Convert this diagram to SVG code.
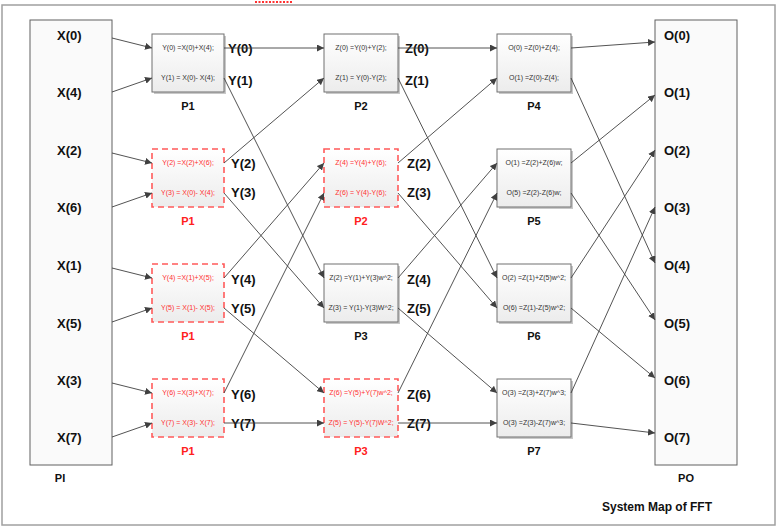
<svg xmlns="http://www.w3.org/2000/svg" width="781" height="530" viewBox="0 0 781 530">
<defs>
<linearGradient id="bg" x1="0" y1="0" x2="0" y2="1"><stop offset="0" stop-color="#ffffff"/><stop offset="1" stop-color="#ececec"/></linearGradient>
<marker id="ah" viewBox="0 0 10 10" refX="10" refY="5" markerWidth="7" markerHeight="7" orient="auto" markerUnits="userSpaceOnUse"><path d="M0,0 L10,5 L0,10 z" fill="#404040"/></marker>
<style>
.frame{fill:none;stroke:#a0a0a0;stroke-width:1.5}
.io{fill:#fafafa;stroke:#606060;stroke-width:1}
.box{fill:url(#bg);stroke:#707070;stroke-width:1}
.rbox{fill:url(#bg);stroke:#ff5a5a;stroke-width:1.6;stroke-dasharray:6,4}
.sh{fill:#c8c8c8}
.bt{font-family:"Liberation Sans",Arial,sans-serif;font-size:7px;fill:#333;text-anchor:middle}
.rt{font-family:"Liberation Sans",Arial,sans-serif;font-size:7px;fill:#ff3030;text-anchor:middle}
.lb{font-family:"Liberation Sans",Arial,sans-serif;font-size:13px;font-weight:bold;fill:#111}
.pl{font-family:"Liberation Sans",Arial,sans-serif;font-size:11px;font-weight:bold;fill:#111;text-anchor:middle}
.rpl{font-family:"Liberation Sans",Arial,sans-serif;font-size:11px;font-weight:bold;fill:#ff2020;text-anchor:middle}
.c{fill:none;stroke:#404040;stroke-width:0.9;marker-end:url(#ah)}
</style>
</defs>
<rect width="781" height="530" fill="#ffffff"/>
<rect class="frame" x="2" y="5" width="773" height="520"/>
<line x1="255" y1="2" x2="292" y2="2" stroke="#ff3030" stroke-width="2" stroke-dasharray="2,1.5"/>

<g id="PI">
<rect class="io" x="30" y="20" width="82" height="445"/>
<text class="lb" x="57" y="40">X(0)</text>
<text class="lb" x="57" y="97">X(4)</text>
<text class="lb" x="57" y="155">X(2)</text>
<text class="lb" x="57" y="212">X(6)</text>
<text class="lb" x="57" y="270">X(1)</text>
<text class="lb" x="57" y="328">X(5)</text>
<text class="lb" x="57" y="385">X(3)</text>
<text class="lb" x="57" y="442">X(7)</text>
<text class="pl" x="60" y="482">PI</text>
</g>

<g id="PO">
<rect class="io" x="655" y="20" width="82" height="445"/>
<text class="lb" x="664" y="40">O(0)</text>
<text class="lb" x="664" y="97">O(1)</text>
<text class="lb" x="664" y="155">O(2)</text>
<text class="lb" x="664" y="212">O(3)</text>
<text class="lb" x="664" y="270">O(4)</text>
<text class="lb" x="664" y="328">O(5)</text>
<text class="lb" x="664" y="385">O(6)</text>
<text class="lb" x="664" y="442">O(7)</text>
<text class="pl" x="686" y="482">PO</text>
</g>

<g id="P1a">
<rect class="sh" x="154" y="36" width="72" height="58"/>
<rect class="box" x="152" y="34" width="72" height="58"/>
<text class="bt" x="188" y="50">Y(0) =X(0)+X(4);</text>
<text class="bt" x="188" y="80">Y(1) = X(0)- X(4);</text>
<text class="pl" x="188" y="110">P1</text>
<text class="lb" x="228" y="53">Y(0)</text>
<text class="lb" x="228" y="85">Y(1)</text>
</g>
<g id="P1b">
<rect class="rbox" x="152" y="149" width="72" height="58"/>
<text class="rt" x="188" y="165">Y(2) =X(2)+X(6);</text>
<text class="rt" x="188" y="195">Y(3) = X(0)- X(4);</text>
<text class="rpl" x="188" y="225">P1</text>
<text class="lb" x="231" y="168">Y(2)</text>
<text class="lb" x="231" y="197">Y(3)</text>
</g>
<g id="P1c">
<rect class="rbox" x="152" y="264" width="72" height="58"/>
<text class="rt" x="188" y="280">Y(4) =X(1)+X(5);</text>
<text class="rt" x="188" y="310">Y(5) = X(1)- X(5);</text>
<text class="rpl" x="188" y="340">P1</text>
<text class="lb" x="231" y="284">Y(4)</text>
<text class="lb" x="231" y="313">Y(5)</text>
</g>
<g id="P1d">
<rect class="rbox" x="152" y="379" width="72" height="58"/>
<text class="rt" x="188" y="395">Y(6) =X(3)+X(7);</text>
<text class="rt" x="188" y="425">Y(7) = X(3)- X(7);</text>
<text class="rpl" x="188" y="455">P1</text>
<text class="lb" x="231" y="399">Y(6)</text>
<text class="lb" x="231" y="428">Y(7)</text>
</g>

<g id="P2a">
<rect class="sh" x="326" y="36" width="74" height="58"/>
<rect class="box" x="324" y="34" width="74" height="58"/>
<text class="bt" x="361" y="50">Z(0) =Y(0)+Y(2);</text>
<text class="bt" x="361" y="80">Z(1) = Y(0)-Y(2);</text>
<text class="pl" x="361" y="110">P2</text>
<text class="lb" x="405" y="53">Z(0)</text>
<text class="lb" x="405" y="85">Z(1)</text>
</g>
<g id="P2b">
<rect class="rbox" x="324" y="149" width="74" height="58"/>
<text class="rt" x="361" y="165">Z(4) =Y(4)+Y(6);</text>
<text class="rt" x="361" y="195">Z(6) = Y(4)-Y(6);</text>
<text class="rpl" x="361" y="225">P2</text>
<text class="lb" x="407" y="168">Z(2)</text>
<text class="lb" x="407" y="197">Z(3)</text>
</g>
<g id="P3a">
<rect class="sh" x="326" y="266" width="74" height="58"/>
<rect class="box" x="324" y="264" width="74" height="58"/>
<text class="bt" x="361" y="280">Z(2) =Y(1)+Y(3)w^2;</text>
<text class="bt" x="361" y="310">Z(3) = Y(1)-Y(3)W^2;</text>
<text class="pl" x="361" y="340">P3</text>
<text class="lb" x="407" y="284">Z(4)</text>
<text class="lb" x="407" y="313">Z(5)</text>
</g>
<g id="P3b">
<rect class="rbox" x="324" y="379" width="74" height="58"/>
<text class="rt" x="361" y="395">Z(6) =Y(5)+Y(7)w^2;</text>
<text class="rt" x="361" y="425">Z(5) = Y(5)-Y(7)W^2;</text>
<text class="rpl" x="361" y="455">P3</text>
<text class="lb" x="407" y="399">Z(6)</text>
<text class="lb" x="407" y="428">Z(7)</text>
</g>

<g id="P4">
<rect class="sh" x="499" y="36" width="74" height="58"/>
<rect class="box" x="497" y="34" width="74" height="58"/>
<text class="bt" x="534" y="50">O(0) =Z(0)+Z(4);</text>
<text class="bt" x="534" y="80">O(1) =Z(0)-Z(4);</text>
<text class="pl" x="534" y="110">P4</text>
</g>
<g id="P5">
<rect class="sh" x="499" y="151" width="74" height="58"/>
<rect class="box" x="497" y="149" width="74" height="58"/>
<text class="bt" x="534" y="165">O(1) =Z(2)+Z(6)w;</text>
<text class="bt" x="534" y="195">O(5) =Z(2)-Z(6)w;</text>
<text class="pl" x="534" y="225">P5</text>
</g>
<g id="P6">
<rect class="sh" x="499" y="266" width="74" height="58"/>
<rect class="box" x="497" y="264" width="74" height="58"/>
<text class="bt" x="534" y="280">O(2) =Z(1)+Z(5)w^2;</text>
<text class="bt" x="534" y="310">O(6) =Z(1)-Z(5)w^2;</text>
<text class="pl" x="534" y="340">P6</text>
</g>
<g id="P7">
<rect class="sh" x="499" y="381" width="74" height="58"/>
<rect class="box" x="497" y="379" width="74" height="58"/>
<text class="bt" x="534" y="395">O(3) =Z(3)+Z(7)w^3;</text>
<text class="bt" x="534" y="425">O(3) =Z(3)-Z(7)w^3;</text>
<text class="pl" x="534" y="455">P7</text>
</g>

<g id="connectors">
<path class="c" d="M112,38 L152,48"/>
<path class="c" d="M112,92 L152,78"/>
<path class="c" d="M112,153 L152,163"/>
<path class="c" d="M112,207 L152,193"/>
<path class="c" d="M112,268 L152,278"/>
<path class="c" d="M112,322 L152,308"/>
<path class="c" d="M112,383 L152,393"/>
<path class="c" d="M112,437 L152,423"/>

<path class="c" d="M224,48 L324,48"/>
<path class="c" d="M224,78 L324,278"/>
<path class="c" d="M224,163 L324,78"/>
<path class="c" d="M224,193 L324,308"/>
<path class="c" d="M224,278 L324,163"/>
<path class="c" d="M224,308 L324,393"/>
<path class="c" d="M224,393 L324,193"/>
<path class="c" d="M224,423 L324,423"/>

<path class="c" d="M398,48 L497,48"/>
<path class="c" d="M398,78 L497,278"/>
<path class="c" d="M398,163 L497,78"/>
<path class="c" d="M398,193 L497,308"/>
<path class="c" d="M398,278 L497,163"/>
<path class="c" d="M398,308 L497,393"/>
<path class="c" d="M398,393 L497,193"/>
<path class="c" d="M398,423 L497,423"/>

<path class="c" d="M571,48 L655,42"/>
<path class="c" d="M571,78 L655,263"/>
<path class="c" d="M571,163 L655,95"/>
<path class="c" d="M571,193 L655,320"/>
<path class="c" d="M571,278 L655,150"/>
<path class="c" d="M571,308 L655,378"/>
<path class="c" d="M571,393 L655,207"/>
<path class="c" d="M571,423 L655,433"/>
</g>

<text class="pl" x="657" y="511" style="font-size:12px">System Map of FFT</text>
</svg>
